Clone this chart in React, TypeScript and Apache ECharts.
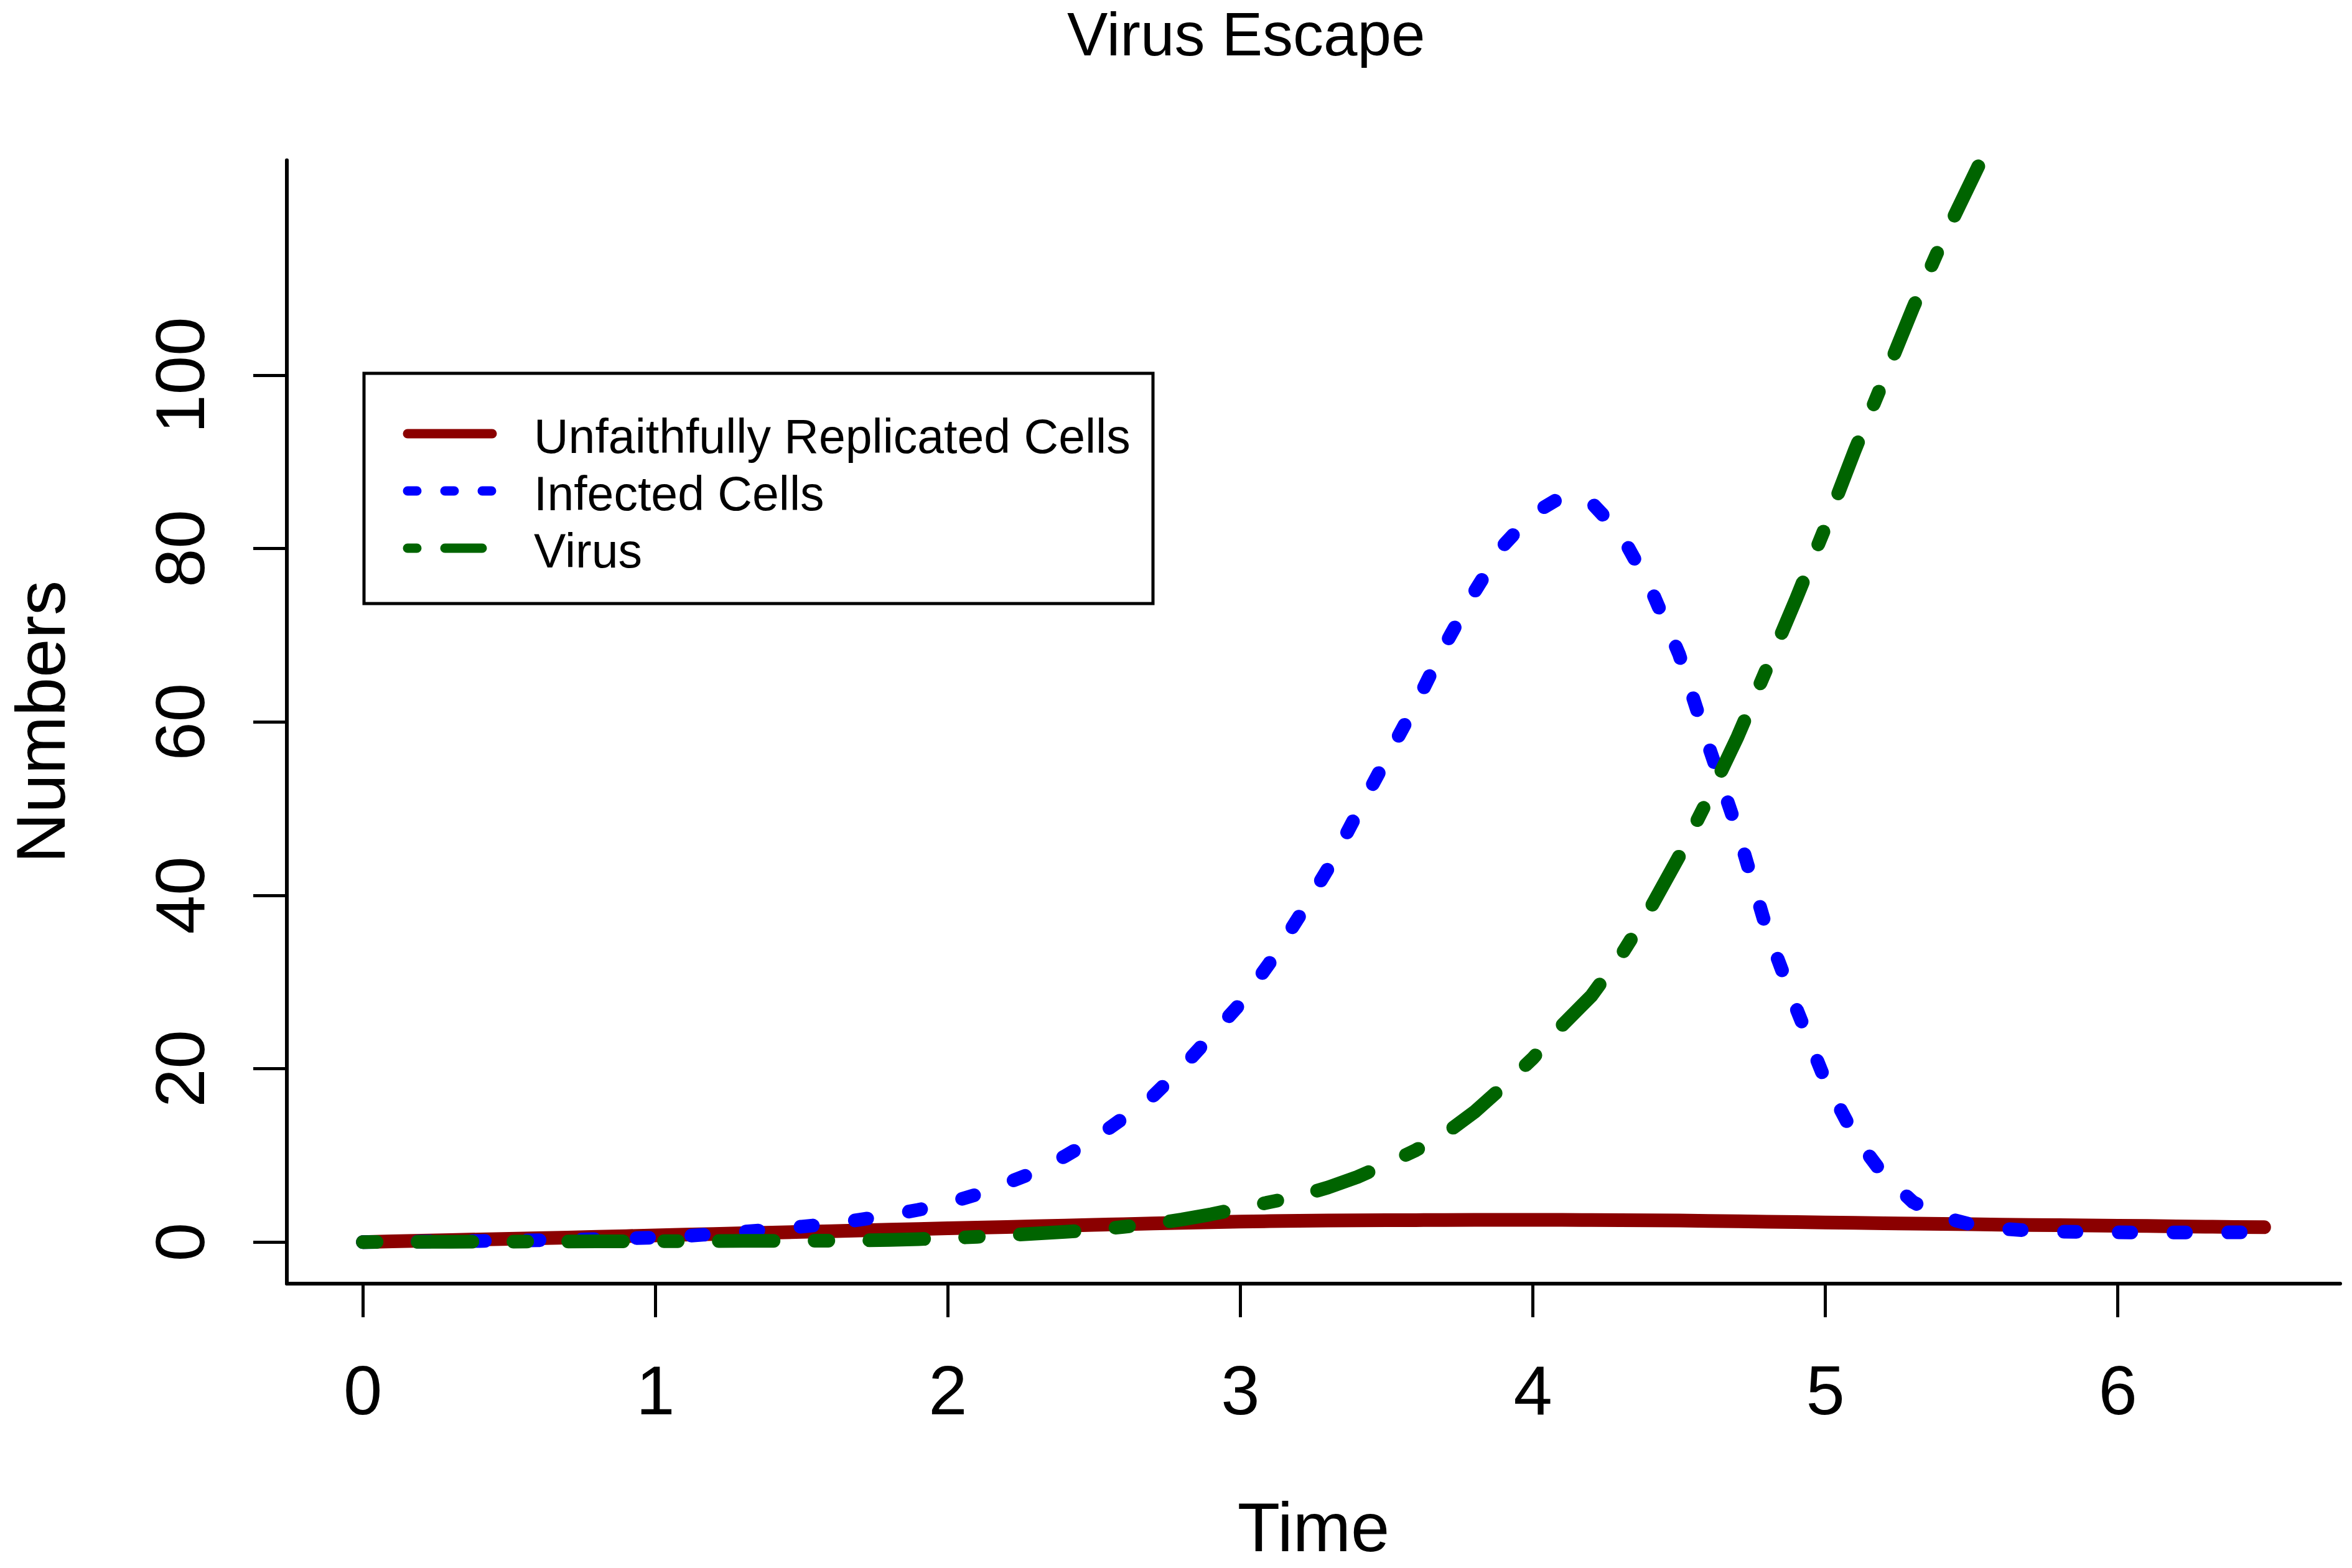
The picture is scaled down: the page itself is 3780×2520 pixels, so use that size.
import React, { useEffect, useRef } from "react";
import * as echarts from "echarts";

const FONT = "'Liberation Sans', Arial, sans-serif";

const chartTitle = "Virus Escape";
const xAxisTitle = "Time";
const yAxisTitle = "Numbers";

const times = [
  0.0, 0.1, 0.2, 0.3, 0.4, 0.5, 0.6, 0.7, 0.8, 0.9,
  1.0, 1.1, 1.2, 1.3, 1.4, 1.5, 1.6, 1.7, 1.8, 1.9,
  2.0, 2.1, 2.2, 2.3, 2.4, 2.5, 2.6, 2.7, 2.8, 2.9,
  3.0, 3.1, 3.2, 3.3, 3.4, 3.5, 3.6, 3.7, 3.8, 3.9,
  4.0, 4.1, 4.2, 4.3, 4.4, 4.5, 4.6, 4.7, 4.8, 4.9,
  5.0, 5.1, 5.2, 5.3, 5.4, 5.5, 5.6, 5.7, 5.8, 5.9,
  6.0, 6.1, 6.2, 6.3, 6.4, 6.5,
];

const unfaithfulCells = [
  0.0, 0.08, 0.16, 0.23, 0.3, 0.37, 0.44, 0.52, 0.6, 0.68,
  0.77, 0.85, 0.93, 1.01, 1.09, 1.17, 1.25, 1.33, 1.42, 1.5,
  1.58, 1.66, 1.74, 1.82, 1.9, 1.98, 2.06, 2.14, 2.22, 2.29,
  2.36, 2.41, 2.45, 2.48, 2.5, 2.52, 2.53, 2.54, 2.55, 2.55,
  2.55, 2.55, 2.54, 2.53, 2.51, 2.48, 2.44, 2.4, 2.35, 2.3,
  2.25, 2.21, 2.17, 2.13, 2.09, 2.05, 2.01, 1.97, 1.94, 1.91,
  1.88, 1.85, 1.8, 1.77, 1.74, 1.71,
];

const infectedCells = [
  0.0, 0.02, 0.05, 0.08, 0.12, 0.16, 0.21, 0.27, 0.34, 0.42,
  0.52, 0.7, 0.92, 1.18, 1.45, 1.78, 2.1, 2.58, 3.1, 3.72,
  4.5, 5.5, 6.8, 8.1, 9.9, 11.9, 14.3, 16.8, 20.1, 23.8,
  27.5, 32.2, 37.5, 43.1, 49.5, 55.8, 62.1, 68.9, 75.0, 80.4,
  84.0, 86.0, 85.3, 81.7, 75.6, 67.8, 57.3, 47.4, 36.0, 27.0,
  18.6, 12.2, 7.7, 4.6, 2.9, 2.0, 1.55, 1.3, 1.2, 1.15,
  1.12, 1.1, 1.1, 1.1, 1.12, 1.15,
];

const virus = [
  0.0, 0.01, 0.02, 0.03, 0.04, 0.05, 0.06, 0.07, 0.08, 0.09,
  0.1, 0.11, 0.12, 0.13, 0.14, 0.15, 0.16, 0.18, 0.25, 0.34,
  0.45, 0.6, 0.78, 0.98, 1.18, 1.4, 1.75, 2.1, 2.6, 3.2,
  3.9, 4.6, 5.3, 6.3, 7.5, 9.0, 10.6, 12.5, 15.0, 18.0,
  21.2, 25.0, 28.4, 33.0, 38.4, 44.5, 51.2, 58.3, 66.2, 74.2,
  82.5, 91.3, 99.5, 107.8, 115.5, 122.5, 129.5,
];

const xTicks = [0, 1, 2, 3, 4, 5, 6];
const yTicks = [0, 20, 40, 60, 80, 100];

const seriesNames = ["Unfaithfully Replicated Cells", "Infected Cells", "Virus"];
const seriesColors = ["#8B0000", "#0000FF", "#006400"];

const toPairs = (vals: number[]) => vals.map((v, i) => [times[i], v]);

export default function App() {
  const ref = useRef<HTMLDivElement>(null);

  useEffect(() => {
    if (!ref.current) return;
    const chart = echarts.init(ref.current, null, { renderer: "svg" });

    const plotDash = [null, [20, 68], [22, 66, 88, 66]];
    const legendDash = [null, [15, 45], [15, 45, 60, 45]];
    const seriesValues = [unfaithfulCells, infectedCells, virus];

    const legendGraphics: any[] = [
      {
        type: "rect",
        shape: { x: 585, y: 600, width: 1268, height: 370 },
        style: { fill: "#fff", stroke: "#000", lineWidth: 5 },
        z: 100,
      },
    ];
    seriesNames.forEach((name, i) => {
      const ly = 697 + i * 92;
      const lineStyle: any = {
        stroke: seriesColors[i],
        lineWidth: 15,
        lineCap: "round",
      };
      if (legendDash[i]) lineStyle.lineDash = legendDash[i];
      legendGraphics.push({
        type: "line",
        shape: { x1: 655, y1: ly, x2: 791, y2: ly },
        style: lineStyle,
        z: 101,
      });
      legendGraphics.push({
        type: "text",
        x: 858,
        y: ly + 4,
        style: {
          text: name,
          fontFamily: FONT,
          fontSize: 77,
          fill: "#000",
          align: "left",
          verticalAlign: "middle",
        },
        z: 101,
      });
    });

    const axisText = { fontFamily: FONT, fontSize: 112, color: "#000" };

    const option: any = {
      animation: false,
      backgroundColor: "#ffffff",
      title: {
        text: chartTitle,
        left: 1715,
        top: 6,
        padding: 0,
        textStyle: {
          fontFamily: FONT,
          fontSize: 98,
          fontWeight: "normal",
          color: "#000",
        },
      },
      grid: {
        left: 461,
        top: 257.5,
        width: 3300,
        height: 1805.5,
        containLabel: false,
        outerBoundsMode: "none",
      },
      xAxis: {
        type: "value",
        min: -0.26,
        max: 6.76,
        name: xAxisTitle,
        nameLocation: "middle",
        nameGap: 335,
        nameTextStyle: axisText,
        axisLine: { show: true, onZero: false, lineStyle: { color: "#000", width: 6 } },
        axisTick: {
          show: true,
          length: 54,
          customValues: xTicks,
          lineStyle: { color: "#000", width: 5 },
        },
        axisLabel: { ...axisText, customValues: xTicks, margin: 115 },
        splitLine: { show: false },
      },
      yAxis: {
        type: "value",
        min: -4.8,
        max: 124.8,
        name: yAxisTitle,
        nameLocation: "middle",
        nameGap: 340,
        nameTextStyle: axisText,
        axisLine: { show: true, onZero: false, lineStyle: { color: "#000", width: 6 } },
        axisTick: {
          show: true,
          length: 54,
          customValues: yTicks,
          lineStyle: { color: "#000", width: 5 },
        },
        axisLabel: { ...axisText, customValues: yTicks, margin: 116, rotate: 90 },
        splitLine: { show: false },
      },
      series: seriesNames.map((name, i) => ({
        name,
        type: "line",
        data: toPairs(seriesValues[i]),
        symbol: "none",
        clip: true,
        lineStyle: {
          color: seriesColors[i],
          width: 22,
          type: plotDash[i] || "solid",
          cap: "round",
          join: "round",
        },
      })),
      graphic: legendGraphics,
    };

    chart.setOption(option);
    return () => chart.dispose();
  }, []);

  return (
    <div
      ref={ref}
      style={{ position: "fixed", left: 0, top: 0, width: 3780, height: 2520, background: "#fff" }}
    />
  );
}
